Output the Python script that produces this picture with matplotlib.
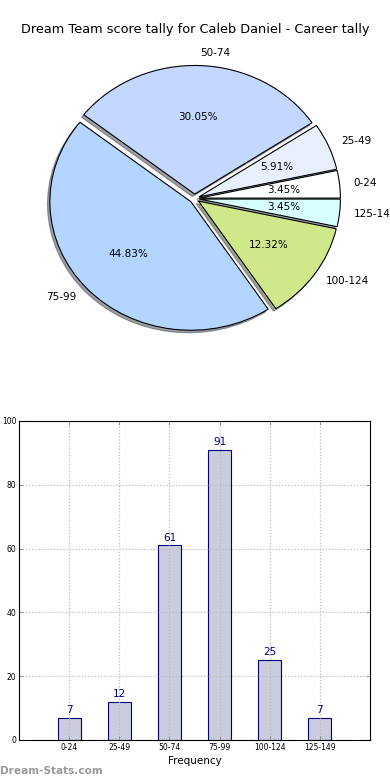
import matplotlib
matplotlib.use("Agg")
import matplotlib.pyplot as plt

categories = ["0-24", "25-49", "50-74", "75-99", "100-124", "125-149"]
counts = [7, 12, 61, 91, 25, 7]
pie_colors = ["#ffffff", "#e8f0ff", "#c4d8ff", "#b3d5ff", "#cfe98a", "#d8ffff"]
title = "Dream Team score tally for Caleb Daniel - Career tally"
yticks = [0, 20, 40, 60, 80, 100]

fig = plt.figure(figsize=(3.9, 7.8), dpi=100)
fig.text(0.5, 1 - 30 / 780, title, ha="center", va="center", fontsize=9.3)

ax1 = fig.add_axes([0.0468, 0.5393, 0.9038, 0.4122])
wedges, texts, autotexts = ax1.pie(
    counts, labels=categories, colors=pie_colors, autopct="%1.2f%%",
    startangle=0, explode=[0.035] * len(counts),
    shadow={"ox": -0.012, "oy": -0.014},
    wedgeprops={"edgecolor": "black", "linewidth": 0.8},
    textprops={"fontsize": 7.5},
)
ax1.set_aspect("auto")
ax1.set_xlim(-1.25, 1.25)
ax1.set_ylim(-1.25, 1.25)
for t in texts + autotexts:
    t.set_clip_on(False)

ax2 = fig.add_axes([0.0487, 0.0513, 0.9, 0.409])
x = list(range(len(categories)))
bars = ax2.bar(x, counts, width=0.46, color="#ccccdf", edgecolor="#000080",
               linewidth=0.8, zorder=2)
for xi, v in zip(x, counts):
    ax2.annotate(str(v), (xi, v), xytext=(0, 2), textcoords="offset points",
                 ha="center", va="bottom", fontsize=7.5, color="#000080")
ax2.set_xlim(-1, 6)
ax2.set_ylim(0, 100)
ax2.set_xticks(x)
ax2.set_xticklabels(categories, fontsize=5.5)
ax2.set_yticks(yticks)
ax2.set_yticklabels([str(v) for v in yticks], fontsize=5.5)
ax2.tick_params(direction="in", top=True, right=True, length=3, width=0.6,
                color="#888888", pad=2)
ax2.grid(True, linestyle=(0, (1, 1.5)), color="#bbbbbb", linewidth=0.9)
ax2.set_axisbelow(False)
for s in ax2.spines.values():
    s.set_linewidth(0.8)
    s.set_zorder(5)
ax2.set_xlabel("Frequency", fontsize=7.5, labelpad=3)

fig.text(0.0, 1 - 771 / 780, "Dream-Stats.com", ha="left", va="center",
         fontsize=7.6, color="#999999", fontweight="bold")

fig.savefig("out.png", dpi=100)
